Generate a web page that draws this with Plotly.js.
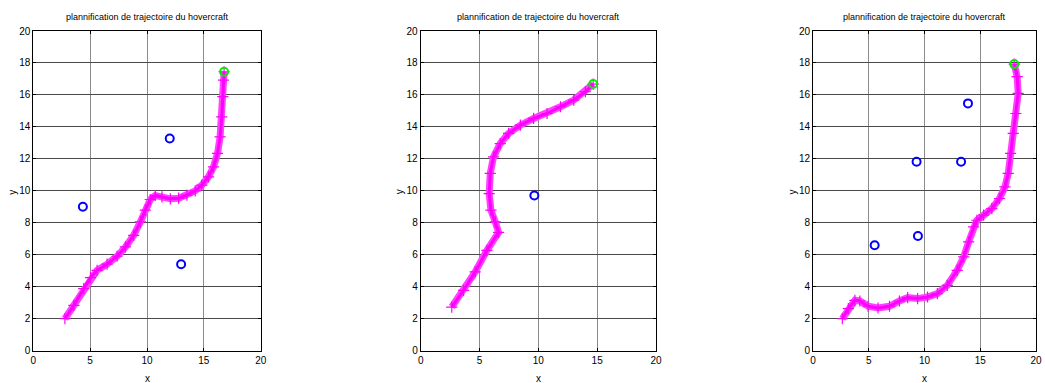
<!DOCTYPE html>
<html><head><meta charset="utf-8">
<script src="https://cdn.plot.ly/plotly-3.0.1.min.js"></script>
<style>html,body{margin:0;padding:0;background:#fff;overflow:hidden}#chart{width:1045px;height:383px}</style>
</head><body><div id="chart"></div>
<script>
// Trajectory 1
const traj1X = [2.78,3.57,4.44,5.03,5.61,6.49,7.37,8.10,8.83,9.42,9.85,10.29,10.73,11.32,12.05,12.78,13.51,14.24,14.82,15.41,15.85,16.20,16.43,16.58,16.67,16.73,16.78];
const traj1Y = [2.00,2.84,3.88,4.57,5.03,5.41,5.91,6.49,7.22,8.06,8.79,9.46,9.71,9.62,9.50,9.54,9.73,10.00,10.36,10.88,11.50,12.34,13.38,14.63,15.89,16.93,17.45];
const obs1X = [4.36,12.0,13.0];
const obs1Y = [9.0,13.28,5.41];
const goal1X = [16.78], goal1Y = [17.45];
// Trajectory 2
const traj2X = [2.64,3.64,4.63,5.63,6.62,6.34,5.97,5.82,5.91,6.19,6.76,7.47,8.47,9.6,10.74,11.88,13.01,14.0,14.66];
const traj2Y = [2.73,3.78,4.93,6.28,7.40,8.06,8.79,9.83,11.09,12.13,12.96,13.59,14.11,14.53,14.84,15.26,15.68,16.2,16.68];
const obs2X = [9.66];
const obs2Y = [9.71];
const goal2X = [14.66], goal2Y = [16.68];
// Trajectory 3
const traj3X = [2.63,3.17,3.76,4.2,4.94,5.83,6.86,7.75,8.49,9.38,10.27,11.15,12.04,12.93,13.52,13.96,14.41,14.70,15.30,16.04,16.72,17.22,17.51,17.72,17.96,18.2,18.4,18.31,18.05];
const traj3Y = [2.0,2.63,3.15,3.11,2.78,2.67,2.78,3.11,3.32,3.26,3.36,3.57,4.09,5.03,5.87,6.81,7.75,8.16,8.48,8.89,9.52,10.25,11.09,12.34,13.59,14.84,16.1,17.14,17.93];
const obs3X = [13.9,9.29,13.28,9.41,5.53];
const obs3Y = [15.47,11.82,11.82,7.18,6.6];
const goal3X = [18.05], goal3Y = [17.93];

const titleText = 'plannification de trajectoire du hovercraft';
const xTicks = [0,5,10,15,20];
const yTicks = [0,2,4,6,8,10,12,14,16,18,20];

const FONT = '"Liberation Sans",Arial,sans-serif';
const sets = [
  {tx:traj1X, ty:traj1Y, ox:obs1X, oy:obs1Y, gx:goal1X, gy:goal1Y},
  {tx:traj2X, ty:traj2Y, ox:obs2X, oy:obs2Y, gx:goal2X, gy:goal2Y},
  {tx:traj3X, ty:traj3Y, ox:obs3X, oy:obs3Y, gx:goal3X, gy:goal3Y}
];
const W = 1045, H = 383, PW = 1036;
const xDom = [[33.3/PW,260.7/PW],[420.7/PW,656/PW],[813/PW,1]];
const yDom = [1-350.7/H, 1-31/H];

const data = [];
const layout = {
  width: W, height: H, margin:{l:0,r:W-PW,t:0,b:0},
  paper_bgcolor:'#fff', plot_bgcolor:'#fff', showlegend:false,
  font:{family:FONT, size:10, color:'#000'},
  annotations: []
};
sets.forEach((s,i)=>{
  const n = i===0 ? '' : String(i+1);
  const xa = 'x'+n, ya = 'y'+n;
  data.push({x:s.tx, y:s.ty, xaxis:xa, yaxis:ya, type:'scatter', mode:'lines',
    line:{color:'#ff44ff', width:7}});
  data.push({x:s.tx, y:s.ty, xaxis:xa, yaxis:ya, type:'scatter', mode:'lines+markers',
    line:{color:'#ff00ff', width:3},
    marker:{symbol:'cross-thin', size:8, line:{color:'#ff00ff', width:1.2}}});
  data.push({x:s.ox, y:s.oy, xaxis:xa, yaxis:ya, type:'scatter', mode:'markers',
    marker:{symbol:'circle-open', size:8, line:{color:'#0000ff', width:2}, color:'#0000ff'}});
  data.push({x:s.gx, y:s.gy, xaxis:xa, yaxis:ya, type:'scatter', mode:'markers',
    marker:{symbol:'circle-open', size:8, line:{color:'#00ee00', width:2}, color:'#00ee00'}});
  layout['xaxis'+n] = {domain:xDom[i], anchor:ya, range:[0,20], tickvals:xTicks, ticktext:xTicks.map(String),
    ticks:'inside', ticklen:3, tickcolor:'#000', showline:true, linecolor:'#000', linewidth:1, mirror:'ticks',
    showgrid:true, gridcolor:'#8a8a8a', gridwidth:1, zeroline:false, fixedrange:true, ticklabeloverflow:'allow',
    tickfont:{family:FONT, size:10, color:'#000'}, automargin:false};
  layout['yaxis'+n] = {domain:yDom, anchor:xa, range:[0,20], tickvals:yTicks, ticktext:yTicks.map(String),
    ticks:'inside', ticklen:3, tickcolor:'#000', showline:true, linecolor:'#000', linewidth:1, mirror:'ticks',
    showgrid:true, gridcolor:'#4a4a4a', gridwidth:1, zeroline:true, zerolinecolor:'#000', zerolinewidth:2, fixedrange:true,
    tickfont:{family:FONT, size:10, color:'#000'}, automargin:false};
  const cx = (xDom[i][0]+xDom[i][1])/2;
  layout.annotations.push({text:titleText, xref:'paper', yref:'paper', x:cx, y:1-17/H, showarrow:false,
    xanchor:'center', yanchor:'middle', font:{family:FONT, size:9, color:'#000'}});
  layout.annotations.push({text:'x', xref:'paper', yref:'paper', x:cx, y:1-378/H, showarrow:false,
    xanchor:'center', yanchor:'middle', font:{family:FONT, size:10, color:'#000'}});
  layout.annotations.push({text:'y', xref:'paper', yref:'paper', x:xDom[i][0]-20.5/PW, y:1-192/H, showarrow:false,
    xanchor:'center', yanchor:'middle', textangle:-90, font:{family:FONT, size:10, color:'#000'}});
});
Plotly.newPlot('chart', data, layout, {staticPlot:true, displayModeBar:false});
</script></body></html>
